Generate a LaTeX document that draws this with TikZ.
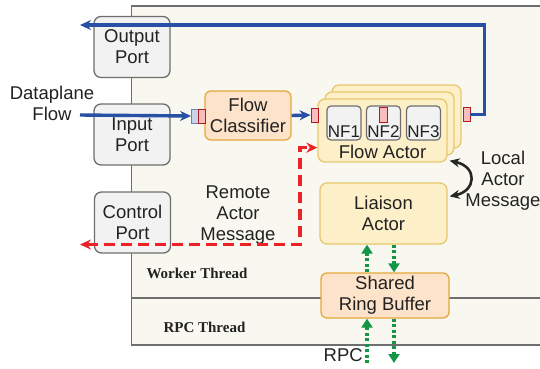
\documentclass[tikz,border=0pt]{standalone}
\usepackage{fontspec}
\setmainfont{Liberation Sans}
\newfontfamily\threadfont{Liberation Serif}
\usepackage{tikz}
\usetikzlibrary{arrows.meta, positioning, calc}
\definecolor{threadbg}{RGB}{249, 248, 240}
\definecolor{portgray}{RGB}{110, 110, 110}
\definecolor{portfill}{RGB}{242, 242, 242}
\definecolor{peach}{RGB}{253, 227, 202}
\definecolor{peachline}{RGB}{228, 168, 60}
\definecolor{cream}{RGB}{253, 240, 200}
\definecolor{creamline}{RGB}{232, 200, 110}
\definecolor{flowblue}{RGB}{40, 80, 165}
\definecolor{msgred}{RGB}{235, 35, 40}
\definecolor{rpcgreen}{RGB}{20, 150, 70}
\definecolor{textgray}{RGB}{34, 34, 34}

\begin{document}
\begin{tikzpicture}[x=1pt, y=-1pt,
  every node/.style={text=textgray, font=\fontsize{18.5}{21}\selectfont},
  port/.style={draw=portgray, fill=portfill, line width=1.3pt, rounded corners=7pt,
    minimum width=76pt, minimum height=61pt, align=center, inner sep=0pt},
  peachbox/.style={draw=peachline, fill=peach, line width=1.3pt, rounded corners=6pt,
    align=center, inner sep=0pt},
  creambox/.style={draw=creamline, fill=cream, line width=1.3pt, rounded corners=7pt,
    align=center, inner sep=0pt},
  nfbox/.style={draw=portgray, fill=portfill, line width=1.2pt, rounded corners=4pt,
    minimum width=34pt, minimum height=34pt, inner sep=0pt},
  redsq/.style={draw=msgred!75!black, fill=msgred!30, line width=0.9pt,
    minimum width=7pt, minimum height=14pt, inner sep=0pt},
  bluesq/.style={draw=flowblue!70, fill=flowblue!25, line width=0.9pt,
    minimum width=7pt, minimum height=14pt, inner sep=0pt},
  flow/.style={flowblue, line width=3.4pt, -{Stealth[length=11pt, width=10pt]}},
  remote/.style={msgred, line width=3.4pt, dash pattern=on 11pt off 6pt,
    {Stealth[length=11pt, width=10pt]}-{Stealth[length=11pt, width=10pt]}},
  rpc/.style={rpcgreen, line width=3.4pt, dash pattern=on 3pt off 2.5pt,
    -{Triangle[length=9pt, width=11pt]}},
  thread/.style={font=\threadfont\bfseries\fontsize{15}{18}\selectfont, anchor=west}]

  \useasboundingbox (0,0) rectangle (540,368);

  % worker and rpc thread area
  \fill[threadbg] (131.5,6) rectangle (540,345);
  \draw[portgray, line width=1.3pt] (540,6) -- (131.5,6) -- (131.5,345) -- (540,345);
  \draw[portgray, line width=1.3pt] (131.5,298) -- (540,298);
  \node[thread] (worker) at (143,273) {Worker Thread};
  \node[thread] (rpcthread) at (160,327) {RPC Thread};

  \node[port] (outport) at (132,47) {Output\\Port};
  \node[port] (inport) at (132,134.5) {Input\\Port};
  \node[port] (ctrlport) at (132.5,222.5) {Control\\Port};

  \node[peachbox, minimum width=86pt, minimum height=49pt] (classifier) at (248,115.5) {Flow\\Classifier};
  \node[bluesq] (clsin) at (195,116) {};
  \node[redsq] (clsred) at (201.5,116) {};

  % stacked flow actors
  \foreach \s in {14,7} {
    \draw[creamline, fill=cream, line width=1.3pt, rounded corners=7pt]
      (318+\s,99-\s) rectangle (447+\s,162-\s);
  }
  \node[creambox, minimum width=129pt, minimum height=63pt] (actor) at (382.5,130.5) {};
  \node[anchor=base] (actorname) at (382.5,158) {Flow Actor};
  \foreach \i/\x in {1/344,2/383.5,3/423.5} {
    \node[nfbox] (nf\i) at (\x,123) {};
    \node[anchor=base, inner sep=0pt, font=\fontsize{17}{20}\selectfont] (nf\i-t) at (\x,137) {NF\i};
  }
  \node[redsq, minimum width=8pt, minimum height=15pt] (nfred) at (383,114.5) {};
  \node[redsq] (actorin) at (314.5,115) {};
  \node[redsq] (actorout) at (466.5,114.5) {};

  \node[creambox, minimum width=127pt, minimum height=61pt] (liaison) at (383.5,213.5) {Liaison\\Actor};
  \node[peachbox, minimum width=128pt, minimum height=45pt] (ring) at (385,295.5) {Shared\\Ring Buffer};

  \node[align=center] (dataplane) at (52,103) {Dataplane\\Flow};
  \node[align=center] (remotemsg) at (238,215.5) {Remote\\Actor\\Message};
  \node[align=center] (localmsg) at (503,181) {Local\\Actor\\Message};
  \node[anchor=east, inner sep=0pt] (rpclabel) at (363,355) {RPC};

  \coordinate (dpin) at (80,115);
  \coordinate (outend) at (80,25);
  \coordinate (remoteend) at (80,244.5);
  \coordinate (corner) at (300,244.5);
  \coordinate (upcol) at (367,0);
  \coordinate (downcol) at (394,0);
  \coordinate (rpcin) at (367,363);
  \coordinate (rpcout) at (394,363);

  % data plane
  \draw[flow] (dpin) -- (clsin.west);
  \draw[flow] (classifier.east) -- (actorin.west);
  \draw[flow] (actorout.east) -- ++(14,0) |- (outend);

  % actor messages
  \draw[remote] (remoteend) -- (corner) |- ($(actor.south west)+(0,-15)$);
  \draw[black!85, line width=2.6pt, {Stealth[length=10pt, width=9pt]}-{Stealth[length=10pt, width=9pt]}]
    ($(actor.south east)+(2,-2)$) .. controls (478,167) and (476,191) .. ($(liaison.north east)+(2,14)$);

  % rpc path
  \draw[rpc] (ring.north -| upcol) -- (liaison.south -| upcol);
  \draw[rpc] (liaison.south -| downcol) -- (ring.north -| downcol);
  \draw[rpc] (rpcin) -- (ring.south -| upcol);
  \draw[rpc] (ring.south -| downcol) -- (rpcout);
\end{tikzpicture}
\end{document}
